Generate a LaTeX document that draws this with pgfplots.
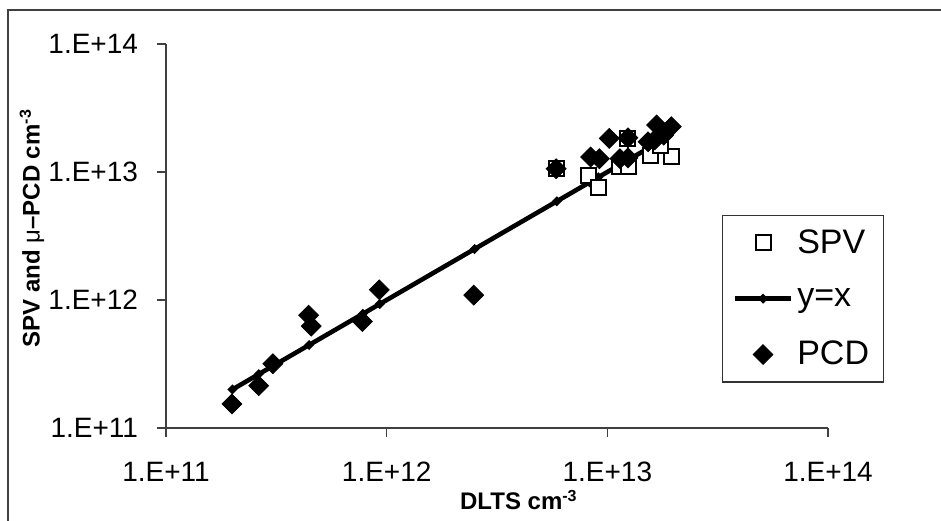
\documentclass[border=0pt]{standalone}
\usepackage{fontspec}
\setmainfont{Liberation Sans}
\usepackage{pgfplots}
\pgfplotsset{compat=1.18}
\begin{document}
\begin{tikzpicture}
\useasboundingbox (-83pt,-46pt) rectangle (387.5pt,214pt);
\draw[black!75, line width=0.7pt] (-79pt,-60pt) rectangle (400pt,209pt);
\begin{axis}[
  at={(0,0)}, anchor=south west, scale only axis,
  width=331pt, height=192pt,
  xmode=log, ymode=log,
  xmin=1e11, xmax=1e14, ymin=1e11, ymax=1e14,
  axis lines=left,
  axis line style={-, black!75, line width=0.6pt},
  tick align=outside, major tick length=4.5pt,
  tick style={black!75, line width=0.6pt},
  minor tick length=0pt,
  xtick={1e11,1e12,1e13,1e14}, ytick={1e11,1e12,1e13,1e14},
  xticklabels={1.E+11,1.E+12,1.E+13,1.E+14},
  yticklabels={1.E+11,1.E+12,1.E+13,1.E+14},
  tick label style={font=\fontsize{14}{16}\selectfont},
  xticklabel style={anchor=north, yshift=-9pt},
  yticklabel style={anchor=east, xshift=-6pt},
  xlabel={\textbf{DLTS cm\textsuperscript{-3}}},
  ylabel={\textbf{SPV and {\mdseries μ}–PCD cm\textsuperscript{-3}}},
  label style={font=\fontsize{12}{14}\selectfont},
  xlabel style={at={(axis description cs:0.533,-0.1875)}, anchor=center},
  ylabel style={at={(axis description cs:-0.2024,0.52)}, anchor=center},
  clip=false,
  legend image code/.code={\draw[mark repeat=2,mark phase=2,#1] plot coordinates {(0pt,0pt) (14pt,0pt) (28pt,0pt)};},
  legend style={at={(rel axis cs:0.84,0.555)}, anchor=north west,
    draw=black!80, line width=0.6pt,
    font=\fontsize{17}{20}\selectfont,
    inner xsep=5pt, inner ysep=5pt, row sep=12pt,
    cells={anchor=west}},
]
% y = x line
\addplot[forget plot, black, line width=2.3pt, mark=*, mark size=0.9pt]
  coordinates {(2e11,2e11) (2.63e11,2.63e11) (3.05e11,3.05e11) (4.45e11,4.45e11)
  (7.8e11,7.8e11) (9.3e11,9.3e11) (2.5e12,2.5e12) (5.9e12,5.9e12) (8.3e12,8.3e12)
  (9.1e12,9.1e12) (1.2e13,1.2e13) (1.55e13,1.55e13) (1.8e13,1.8e13)};
% SPV
\addplot[forget plot, only marks, mark=square*, mark size=3.75pt,
  mark options={fill=white, draw=black, line width=1pt}]
  coordinates {(5.86e12,1.06e13) (8.2e12,9.4e12) (9.07e12,7.5e12) (1.23e13,1.83e13)
  (1.14e13,1.1e13) (1.25e13,1.1e13) (1.57e13,1.35e13) (1.95e13,1.31e13) (1.75e13,1.6e13)};
% PCD
\addplot[forget plot, only marks, mark=square*, mark size=3.5pt,
  mark options={rotate=45, fill=black, draw=black, line width=0.4pt}]
  coordinates {(1.99e11,1.54e11) (2.63e11,2.14e11) (3.05e11,3.18e11) (4.43e11,7.6e11)
  (4.55e11,6.25e11) (7.76e11,6.8e11) (9.26e11,1.2e12) (2.48e12,1.09e12)
  (5.86e12,1.06e13) (8.4e12,1.31e13) (9.2e12,1.27e13) (1.02e13,1.83e13)
  (1.24e13,1.85e13) (1.14e13,1.27e13) (1.24e13,1.29e13) (1.67e13,2.33e13)
  (1.95e13,2.26e13) (1.64e13,1.78e13) (1.8e13,1.94e13) (1.53e13,1.72e13)};
\addlegendimage{only marks, mark=square*, mark size=3.75pt, mark options={fill=white, draw=black, line width=1pt}}
\addlegendentry{SPV}
\addlegendimage{black, line width=2.3pt, mark=*, mark size=0.9pt}
\addlegendentry{y=x}
\addlegendimage{only marks, mark=square*, mark size=3.5pt, mark options={rotate=45, fill=black, draw=black, line width=0.4pt}}
\addlegendentry{PCD}
\end{axis}
\end{tikzpicture}
\end{document}
